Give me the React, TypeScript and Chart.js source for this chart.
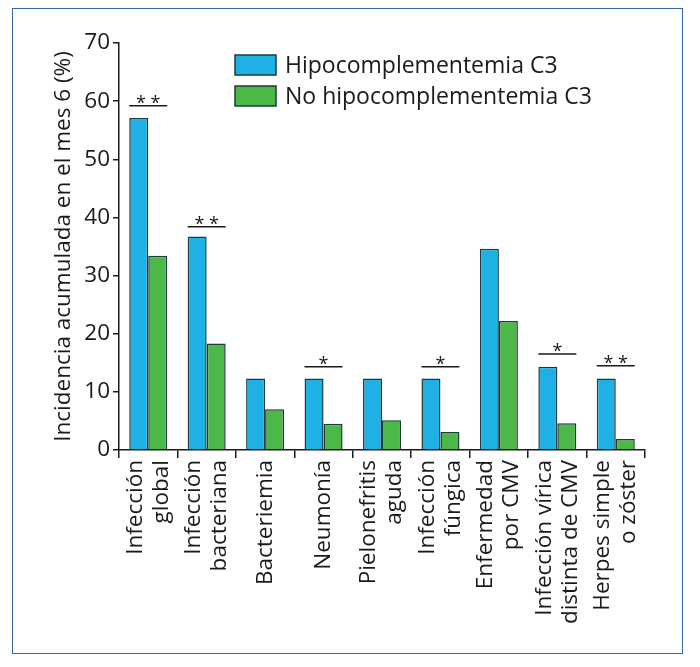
import React, { useEffect, useRef } from 'react';
import { Chart, registerables } from 'chart.js';
Chart.register(...registerables);

const categories: string[][] = [
  ['Infección', 'global'],
  ['Infección', 'bacteriana'],
  ['Bacteriemia'],
  ['Neumonía'],
  ['Pielonefritis', 'aguda'],
  ['Infección', 'fúngica'],
  ['Enfermedad', 'por CMV'],
  ['Infección vírica', 'distinta de CMV'],
  ['Herpes simple', 'o zóster'],
];
const seriesNames = ['Hipocomplementemia C3', 'No hipocomplementemia C3'];
const hipo = [57.1, 36.7, 12.3, 12.3, 12.3, 12.3, 34.6, 14.3, 12.3];
const noHipo = [33.4, 18.3, 7.0, 4.5, 5.1, 3.1, 22.2, 4.6, 1.9];
const sigLabels = ['**', '**', '', '*', '', '*', '', '*', '**'];
const sigLevels: (number | null)[] = [59.2, 38.4, null, 14.3, null, 14.3, null, 16.5, 14.5];
const yTicks = [0, 10, 20, 30, 40, 50, 60, 70];
const yTitle = 'Incidencia acumulada en el mes 6 (%)';

const FONT = '"Open Sans", "Noto Sans", sans-serif';
const BLUE = '#1fb0e6';
const GREEN = '#4cb848';
const EDGE = '#1d3a3c';
const INK = '#1a1a1a';

const overlayPlugin = {
  id: 'overlay',
  afterDraw(chart: any) {
    const ctx = chart.ctx;
    const x = chart.scales.x;
    const y = chart.scales.y;
    ctx.save();
    // category labels
    ctx.fillStyle = INK;
    ctx.font = `500 22.5px ${FONT}`;
    const lh = 26;
    categories.forEach((lines, i) => {
      const cx = x.getPixelForValue(i);
      lines.forEach((t, j) => {
        const px = cx + (j - (lines.length - 1) / 2) * lh;
        ctx.save();
        ctx.translate(px, x.top + 10);
        ctx.rotate(-Math.PI / 2);
        ctx.textAlign = 'right';
        ctx.textBaseline = 'middle';
        ctx.fillText(t, 0, 0);
        ctx.restore();
      });
    });
    // significance
    const meta0 = chart.getDatasetMeta(0);
    const meta1 = chart.getDatasetMeta(1);
    sigLevels.forEach((lv, i) => {
      if (lv == null) return;
      const b0 = meta0.data[i];
      const b1 = meta1.data[i];
      const x0 = b0.x - b0.width / 2;
      const x1 = b1.x + b1.width / 2;
      const py = y.getPixelForValue(lv);
      ctx.strokeStyle = INK;
      ctx.lineWidth = 1.5;
      ctx.beginPath();
      ctx.moveTo(x0, py);
      ctx.lineTo(x1, py);
      ctx.stroke();
      ctx.font = `18px ${FONT}`;
      ctx.textAlign = 'center';
      ctx.textBaseline = 'alphabetic';
      ctx.fillText(sigLabels[i].split('').join(' '), (x0 + x1) / 2, py + 3);
    });
    // legend
    const colors = [BLUE, GREEN];
    seriesNames.forEach((name, i) => {
      const bx = 235;
      const by = 55 + i * 31;
      ctx.fillStyle = colors[i];
      ctx.fillRect(bx, by, 41, 20);
      ctx.strokeStyle = EDGE;
      ctx.lineWidth = 1.5;
      ctx.strokeRect(bx, by, 41, 20);
      ctx.fillStyle = INK;
      ctx.font = `500 23px ${FONT}`;
      ctx.textAlign = 'left';
      ctx.textBaseline = 'middle';
      ctx.fillText(name, 285, by + 11);
    });
    ctx.restore();
  },
};

export default function App() {
  const ref = useRef<HTMLCanvasElement>(null);
  useEffect(() => {
    const chart = new Chart(ref.current!, {
      type: 'bar',
      data: {
        labels: categories.map((c) => c.join(' ')),
        datasets: [
          { label: seriesNames[0], data: hipo, backgroundColor: BLUE, borderColor: EDGE, borderWidth: 1.5, borderSkipped: 'bottom' },
          { label: seriesNames[1], data: noHipo, backgroundColor: GREEN, borderColor: EDGE, borderWidth: 1.5, borderSkipped: 'bottom' },
        ],
      },
      options: {
        animation: false,
        responsive: false,
        devicePixelRatio: 1,
        layout: { padding: { left: 48, top: 43, right: 55, bottom: 0 } },
        plugins: { legend: { display: false }, tooltip: { enabled: false } },
        datasets: { bar: { categoryPercentage: 0.65, barPercentage: 1 } },
        scales: {
          x: {
            grid: { drawOnChartArea: false, drawTicks: true, tickLength: 8, color: INK, lineWidth: 1.5, offset: true },
            border: { color: INK, width: 1.5 },
            ticks: { display: false },
            afterFit: (s: any) => { s.height = 217; },
          },
          y: {
            min: 0,
            max: 70,
            afterBuildTicks: (s: any) => { s.ticks = yTicks.map((v) => ({ value: v })); },
            grid: { drawOnChartArea: false, drawTicks: true, tickLength: 6, color: INK, lineWidth: 1.5 },
            border: { color: INK, width: 1.5 },
            ticks: { color: INK, font: { family: FONT, size: 22.5, weight: '500' }, padding: 3 },
            title: { display: true, text: yTitle, color: INK, font: { family: FONT, size: 22.5, weight: '500' }, padding: { top: 2, bottom: 0 } },
            afterFit: (s: any) => { s.width = 71; },
          },
        },
      },
      plugins: [overlayPlugin],
    });
    return () => chart.destroy();
  }, []);
  return (
    <div style={{ position: 'fixed', left: 0, top: 0, width: 700, height: 667, background: '#fff' }}>
      <canvas ref={ref} width={700} height={667} style={{ position: 'absolute', left: 0, top: 0 }} />
      <div style={{ position: 'absolute', left: 12, top: 8, width: 669, height: 644, border: '1.5px solid #2f6aa3', pointerEvents: 'none' }} />
    </div>
  );
}
